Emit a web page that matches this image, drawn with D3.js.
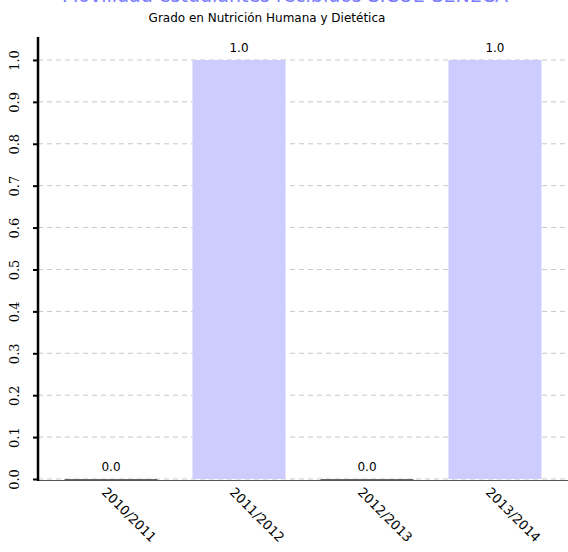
<!DOCTYPE html>
<html><head><meta charset="utf-8">
<script src="https://cdn.jsdelivr.net/npm/d3@7"></script>
<style>body{margin:0;background:#fff}svg{display:block}</style>
</head><body>
<svg id="c" width="568" height="552"></svg>
<script>
const categories = ["2010/2011","2011/2012","2012/2013","2013/2014"];
const values = [0.0, 1.0, 0.0, 1.0];
const yTicks = [0.0,0.1,0.2,0.3,0.4,0.5,0.6,0.7,0.8,0.9,1.0];
const titleText = "Movilidad estudiantes recibidos SICUE-SENECA";
const subtitleText = "Grado en Nutrición Humana y Dietética";

const svg = d3.select("#c");
const x = d3.scaleBand().domain(categories).range([38,568]).paddingInner(0.273).paddingOuter(0.207);
const y = d3.scaleLinear().domain([0,1.05]).range([479,39]);

// gridlines
svg.append("g").selectAll("line").data(yTicks).join("line")
  .attr("x1",38).attr("x2",568).attr("y1",d=>y(d)).attr("y2",d=>y(d))
  .attr("stroke","#c8c8c8").attr("stroke-width",1).attr("stroke-dasharray","5,4");

// bars
svg.append("g").selectAll("rect").data(values).join("rect")
  .attr("x",(d,i)=>x(categories[i])).attr("width",x.bandwidth())
  .attr("y",d=>y(d)).attr("height",d=>y(0)-y(d))
  .attr("fill","#ccccff");
svg.append("g").selectAll("line").data(values).join("line")
  .attr("x1",(d,i)=>x(categories[i])).attr("x2",(d,i)=>x(categories[i])+x.bandwidth())
  .attr("y1",d=>y(d)+0.5).attr("y2",d=>y(d)+0.5)
  .attr("stroke",d=>d===0?"#666":"none").attr("stroke-width",1);

// x axis line
svg.append("line").attr("x1",38).attr("x2",568).attr("y1",480.5).attr("y2",480.5)
  .attr("stroke","#555").attr("stroke-width",1);

// value labels
svg.append("g").selectAll("text").data(values).join("text")
  .attr("x",(d,i)=>x(categories[i])+x.bandwidth()/2).attr("y",d=>y(d)-8)
  .attr("text-anchor","middle").attr("font-family","DejaVu Sans").attr("font-size",12)
  .attr("fill","#000").text(d=>d.toFixed(1));

// y axis
const ya = svg.append("g").attr("transform","translate(38,0)")
  .call(d3.axisLeft(y).tickValues(yTicks).tickSize(5).tickFormat(d=>d.toFixed(1)));
ya.select(".domain").remove();
ya.selectAll(".tick line").attr("stroke","#000").attr("stroke-width",2);
ya.selectAll(".tick text").attr("font-family","DejaVu Serif").attr("font-size",13)
  .attr("fill","#000").attr("text-anchor","middle")
  .attr("transform","translate(-24,0) rotate(-90)").attr("x",0).attr("dy","0.35em");
svg.append("line").attr("x1",38).attr("x2",38).attr("y1",37).attr("y2",481)
  .attr("stroke","#000").attr("stroke-width",2.5);

// x labels
svg.append("g").selectAll("text").data(categories).join("text")
  .attr("transform",d=>`translate(${x(d)+x.bandwidth()/2-10},493) rotate(45)`)
  .attr("font-family","DejaVu Sans").attr("font-size",13).attr("fill","#000")
  .text(d=>d);

// titles
svg.append("text").attr("x",285).attr("y",2).attr("text-anchor","middle")
  .attr("font-family","DejaVu Sans").attr("font-size",19).attr("fill","#7b7bff").text(titleText);
svg.append("text").attr("x",267).attr("y",22).attr("text-anchor","middle")
  .attr("font-family","DejaVu Sans").attr("font-size",12).attr("fill","#000").text(subtitleText);
</script>
</body></html>
